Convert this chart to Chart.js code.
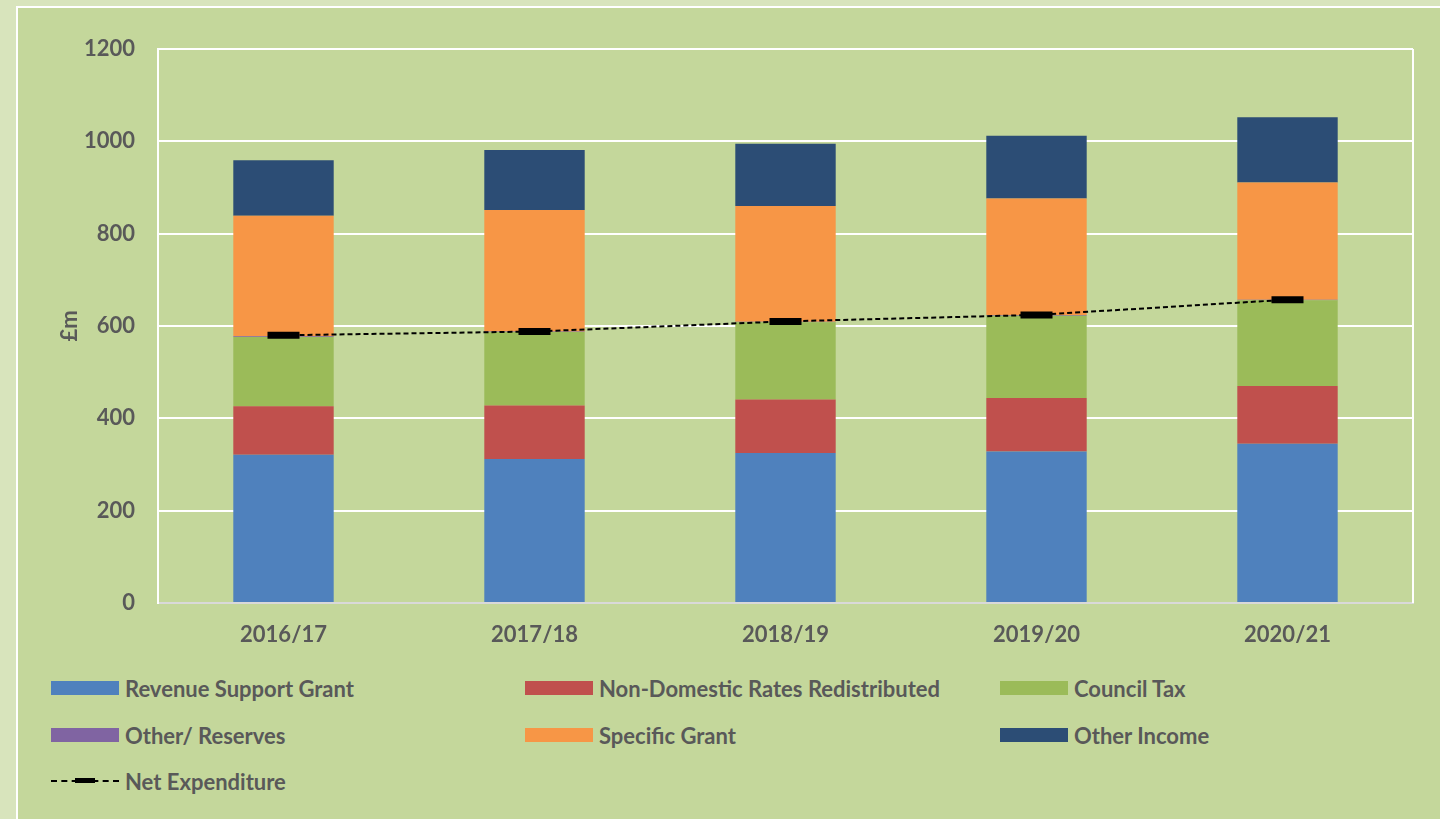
<!DOCTYPE html>
<html>
<head>
<meta charset="utf-8">
<script src="https://cdn.jsdelivr.net/npm/chart.js@4"></script>
<style>
  html, body { margin: 0; padding: 0; }
  body { width: 1440px; height: 819px; background: #d8e4bc; position: relative; overflow: hidden;
         font-family: Lato, "Open Sans", sans-serif; }
  #panel { position: absolute; left: 16px; top: 6px; width: 1440px; height: 830px;
           background: #c4d79b; border-left: 2px solid #fff; border-top: 2px solid #fff; }
  #c { position: absolute; left: 0; top: 0; }
  .item { position: absolute; height: 26px; display: flex; align-items: center;
          font-weight: bold; font-size: 22px; color: #595959; white-space: nowrap; }
  .sw { width: 68px; height: 14px; margin-right: 6px; position: relative; }
  .sw.dash { height: 0; border-top: 2px dashed #000; }
  .sw.dash span { position: absolute; left: 24px; top: -4px; width: 20px; height: 5px; background: #000; }
</style>
</head>
<body>
<div id="panel"></div>
<canvas id="c" width="1440" height="660"></canvas>
<div id="legend"></div>
<script>
const years = ['2016/17', '2017/18', '2018/19', '2019/20', '2020/21'];
const revenueSupportGrant = [321, 312, 325, 328, 345];
const nonDomesticRates = [105, 116, 116, 116, 125];
const councilTax = [150, 159, 167, 178, 186];
const otherReserves = [2, 1, 1, 2, 1];
const specificGrant = [261, 263, 251, 252, 254];
const otherIncome = [120, 130, 135, 136, 141];
const netExpenditure = [580, 588, 610, 624, 657];
const yTicks = [0, 200, 400, 600, 800, 1000, 1200];

const font = { family: 'Lato, "Open Sans", sans-serif', size: 22, weight: 'bold' };
const textColor = '#595959';

function bar(label, data, color) {
  return { type: 'bar', label: label, data: data, backgroundColor: color, borderWidth: 0,
           stack: 'income', order: 1, barPercentage: 0.8, categoryPercentage: 0.5 };
}

// right edge of the plot area is white in the original
const plotEdge = {
  id: 'plotEdge',
  beforeDatasetsDraw(chart) {
    const a = chart.chartArea, c = chart.ctx;
    c.save();
    c.strokeStyle = '#ffffff';
    c.lineWidth = 2;
    c.beginPath();
    c.moveTo(a.right, a.top);
    c.lineTo(a.right, a.bottom);
    c.stroke();
    c.restore();
  }
};

const chart = new Chart(document.getElementById('c'), {
  data: {
    labels: years,
    datasets: [
      bar('Revenue Support Grant', revenueSupportGrant, '#4f81bd'),
      bar('Non-Domestic Rates Redistributed', nonDomesticRates, '#c0504d'),
      bar('Council Tax', councilTax, '#9bbb59'),
      bar('Other/ Reserves', otherReserves, '#8064a2'),
      bar('Specific Grant', specificGrant, '#f79646'),
      bar('Other Income', otherIncome, '#2c4d75'),
      {
        type: 'line', label: 'Net Expenditure', data: netExpenditure, stack: 'net', order: 0,
        borderColor: '#000', borderWidth: 2, borderDash: [5, 3],
        pointStyle: 'line', pointRadius: 16, pointHoverRadius: 16,
        pointBorderWidth: 7, pointBorderColor: '#000', pointBackgroundColor: '#000'
      }
    ]
  },
  options: {
    responsive: false,
    animation: false,
    devicePixelRatio: 1,
    layout: { padding: { left: 55, top: 49, right: 27, bottom: 0 } },
    plugins: { legend: { display: false }, tooltip: { enabled: false } },
    scales: {
      x: {
        stacked: true,
        afterFit: s => { s.height = 57; },
        grid: { display: false, drawTicks: false },
        border: { display: true, color: '#d9d9d9', width: 2 },
        ticks: { color: textColor, font: font, padding: 19 }
      },
      y: {
        stacked: true,
        min: 0, max: 1200,
        afterFit: s => { s.width = 103; },
        afterBuildTicks: s => { s.ticks = yTicks.map(v => ({ value: v })); },
        grid: { color: '#ffffff', lineWidth: 2, drawTicks: false },
        border: { display: true, color: '#ffffff', width: 2 },
        ticks: { color: textColor, font: font, padding: 23, callback: v => String(v) },
        title: { display: true, text: '£m', color: textColor, font: font, padding: 2 }
      }
    }
  },
  plugins: [plotEdge]
});

// legend in three aligned columns, like the original
const legend = document.getElementById('legend');
const colX = [51, 525, 1000];
const rowY = [688, 735, 781];
chart.data.datasets.forEach((ds, i) => {
  const item = document.createElement('div');
  item.className = 'item';
  item.style.left = colX[i % 3] + 'px';
  item.style.top = (rowY[Math.floor(i / 3)] - 13) + 'px';
  const sw = document.createElement('div');
  sw.className = 'sw';
  if (ds.type === 'line') {
    sw.classList.add('dash');
    sw.appendChild(document.createElement('span'));
  } else {
    sw.style.background = ds.backgroundColor;
  }
  item.appendChild(sw);
  item.appendChild(document.createTextNode(ds.label));
  legend.appendChild(item);
});
</script>
</body>
</html>
